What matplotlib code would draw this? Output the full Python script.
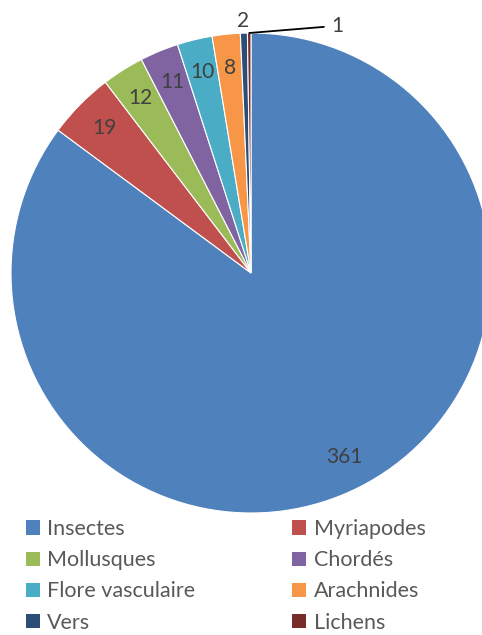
import numpy as np
import matplotlib
matplotlib.use("Agg")
import matplotlib.pyplot as plt
from matplotlib.patches import Patch

categories = ['Insectes', 'Myriapodes', 'Mollusques', 'Chordés',
              'Flore vasculaire', 'Arachnides', 'Vers', 'Lichens']
values = [361, 19, 12, 11, 10, 8, 2, 1]
colors = ['#4F81BD', '#C0504D', '#9BBB59', '#8064A2',
          '#4BACC6', '#F79646', '#2C4D75', '#772C2A']

plt.rcParams['font.family'] = ['Lato', 'DejaVu Sans']
txt_color = '#595959'

fig = plt.figure(figsize=(4.82, 6.35), dpi=100)
ax = fig.add_axes([11 / 482, 1 - 513 / 635, 480 / 482, 480 / 635])
wedges, _ = ax.pie(values, colors=colors, startangle=90, counterclock=False,
                   radius=1, wedgeprops=dict(edgecolor='white', linewidth=0.8))
ax.set_xlim(-1, 1)
ax.set_ylim(-1, 1)
ax.set_aspect('equal')
ax.axis('off')

# data labels
for i, (w, v) in enumerate(zip(wedges, values)):
    mid = np.deg2rad((w.theta1 + w.theta2) / 2)
    if v >= 8:
        r = 0.86
        ax.text(r * np.cos(mid), r * np.sin(mid), str(v), ha='center', va='center',
                fontsize=15, color='#404040')
    elif v == 2:
        r = 1.05
        ax.text(r * np.cos(mid), r * np.sin(mid), str(v), ha='center', va='center',
                fontsize=15, color='#404040')
    else:
        p = (np.cos(mid), np.sin(mid))
        ax.annotate(str(v), xy=p, xytext=(p[0] + 0.34, p[1] + 0.03),
                    ha='left', va='center', fontsize=15, color='#404040',
                    arrowprops=dict(arrowstyle='-', color='black', lw=1.3,
                                    shrinkA=3, shrinkB=0,
                                    connectionstyle='arc3'),
                    annotation_clip=False)

handles = [Patch(facecolor=c, edgecolor='none') for c in colors]
order = [0, 2, 4, 6, 1, 3, 5, 7]
leg = fig.legend([handles[i] for i in order], [categories[i] for i in order],
                 ncol=2, loc='upper left', bbox_to_anchor=(26 / 482, 1 - 519 / 635),
                 frameon=False, fontsize=15.5, handlelength=0.64, handleheight=0.64,
                 handletextpad=0.35, columnspacing=4.5, labelspacing=0.52,
                 borderaxespad=0, borderpad=0)
for t in leg.get_texts():
    t.set_color(txt_color)

fig.savefig('out.png', dpi=100)
